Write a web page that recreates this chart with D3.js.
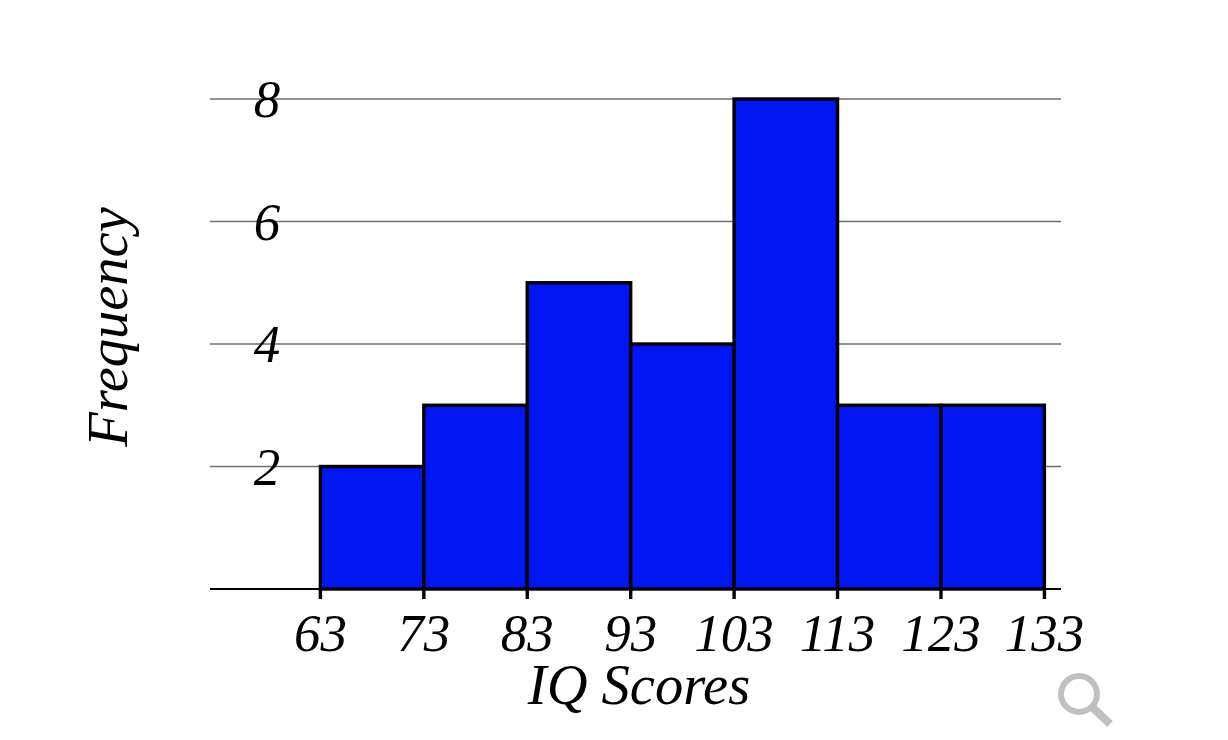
<!DOCTYPE html>
<html><head><meta charset="utf-8">
<script src="https://cdn.jsdelivr.net/npm/d3@7"></script>
<style>html,body{margin:0;padding:0;background:#fff}svg{display:block}text{font-family:"Liberation Serif",serif;font-style:italic;fill:#000}</style>
</head><body><svg id="c" width="1228" height="740"></svg>
<script>
const binEdges=[63,73,83,93,103,113,123,133];
const frequencies=[2,3,5,4,8,3,3];
const yTicks=[2,4,6,8];
const xTitle="IQ Scores", yTitle="Frequency";
const svg=d3.select("#c");
const xi=d3.scalePoint().domain(binEdges).range([320.4,1044.4]);
const y=d3.scaleLinear().domain([0,8]).range([589,99]);
const L=210,R=1061;
const fs=53, ts=56.5;
svg.append("g").selectAll("line").data(yTicks).join("line")
 .attr("x1",L).attr("x2",R).attr("y1",d=>y(d)).attr("y2",d=>y(d)).attr("stroke","#6e6e6e").attr("stroke-width",1.7);
svg.append("g").selectAll("text").data(yTicks).join("text")
 .attr("x",267).attr("y",d=>y(d)+18).attr("text-anchor","middle").attr("font-size",fs).text(d=>d);
svg.append("g").selectAll("rect").data(frequencies).join("rect")
 .attr("x",(d,i)=>xi(binEdges[i])).attr("width",(d,i)=>xi(binEdges[i+1])-xi(binEdges[i]))
 .attr("y",d=>y(d)).attr("height",d=>y(0)-y(d))
 .attr("fill","#0016f5").attr("stroke","#000").attr("stroke-width",3.4);
svg.append("line").attr("x1",L).attr("x2",R).attr("y1",y(0)).attr("y2",y(0)).attr("stroke","#000").attr("stroke-width",2);
svg.append("g").selectAll("line").data(binEdges).join("line")
 .attr("x1",d=>xi(d)).attr("x2",d=>xi(d)).attr("y1",y(0)).attr("y2",y(0)+10).attr("stroke","#000").attr("stroke-width",3.4);
svg.append("g").selectAll("text").data(binEdges).join("text")
 .attr("x",d=>xi(d)).attr("y",651).attr("text-anchor","middle").attr("font-size",fs).text(d=>d);
svg.append("text").attr("x",639).attr("y",704).attr("text-anchor","middle").attr("font-size",ts).text(xTitle);
svg.append("text").attr("transform","translate(127,327) rotate(-90)").attr("text-anchor","middle").attr("font-size",ts).text(yTitle);
const m=svg.append("g").attr("fill","none").attr("stroke","#c0c0c0");
m.append("circle").attr("cx",1079).attr("cy",694).attr("r",18).attr("stroke-width",6);
m.append("line").attr("x1",1092).attr("y1",707).attr("x2",1110).attr("y2",724).attr("stroke-width",8);
</script></body></html>
